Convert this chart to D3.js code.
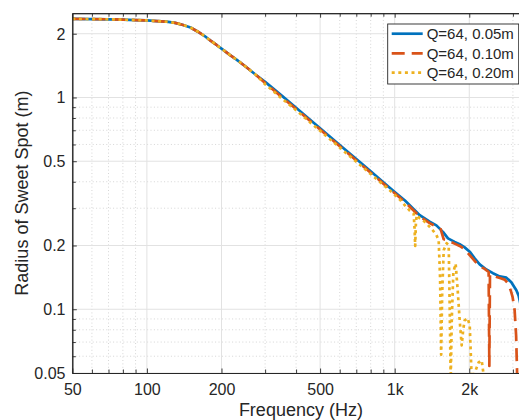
<!DOCTYPE html>
<html>
<head>
<meta charset="utf-8">
<script src="https://cdn.jsdelivr.net/npm/d3@7"></script>
<style>
  html, body { margin: 0; padding: 0; background: #fff; }
  svg { display: block; }
  text { font-family: "Liberation Sans", Arial, Helvetica, sans-serif; fill: #262626; }
</style>
</head>
<body>
<div id="chart"></div>
<script>
// ---------------- data ----------------
const seriesNames = ["Q=64, 0.05m", "Q=64, 0.10m", "Q=64, 0.20m"];

const lowFreq = [50, 60, 70, 80, 90, 100, 110, 120, 130, 140, 150, 160, 171, 180, 191, 200, 216, 230, 250, 275];
const lowRadius = [2.35, 2.345, 2.34, 2.33, 2.32, 2.31, 2.295, 2.28, 2.25, 2.20, 2.14, 2.05, 1.95, 1.86, 1.77, 1.70, 1.59, 1.51, 1.40, 1.28];

const freqA = [300, 350, 400, 500, 600, 700, 800, 900, 1000, 1100, 1150, 1262, 1384, 1473, 1566, 1641, 1746, 1829, 1916, 2008, 2103, 2203, 2344, 2492, 2651, 2822, 2956, 3097, 3164, 3250];
const radiusA = [1.185, 1.02, 0.895, 0.716, 0.597, 0.512, 0.448, 0.398, 0.358, 0.326, 0.310, 0.278, 0.259, 0.249, 0.232, 0.216, 0.208, 0.203, 0.196, 0.187, 0.174, 0.163, 0.154, 0.148, 0.143, 0.141, 0.134, 0.123, 0.116, 0.10];

const freqB = [300, 350, 400, 500, 600, 700, 800, 900, 1000, 1100, 1150, 1262, 1384, 1478, 1533, 1577, 1637, 1698, 1762, 1829, 1916, 2008, 2103, 2203, 2307, 2394, 2410, 2424, 2486, 2580, 2677, 2778, 2857, 2938, 2992, 3048, 3091, 3119, 3160];
const radiusB = [1.17, 1.005, 0.882, 0.706, 0.588, 0.504, 0.441, 0.392, 0.353, 0.321, 0.305, 0.274, 0.255, 0.245, 0.239, 0.214, 0.212, 0.207, 0.203, 0.199, 0.192, 0.180, 0.169, 0.160, 0.155, 0.150, 0.054, 0.146, 0.144, 0.142, 0.140, 0.138, 0.133, 0.123, 0.114, 0.099, 0.075, 0.0498, 0.037];

const freqC = [300, 350, 400, 500, 600, 700, 800, 900, 955, 1048, 1115, 1150, 1193, 1203, 1210, 1217, 1227, 1262, 1322, 1384, 1424, 1473, 1505, 1525, 1540, 1555, 1577, 1621, 1652, 1668, 1683, 1700, 1725, 1762, 1796, 1829, 1864, 1890, 1916, 1970, 2008, 2030, 2045, 2080, 2122, 2182, 2244, 2280, 2307, 2500, 3200];
const radiusC = [1.155, 0.99, 0.87, 0.696, 0.58, 0.497, 0.435, 0.387, 0.365, 0.330, 0.304, 0.292, 0.283, 0.24, 0.199, 0.25, 0.278, 0.269, 0.259, 0.245, 0.236, 0.224, 0.212, 0.14, 0.061, 0.12, 0.190, 0.205, 0.201, 0.10, 0.046, 0.09, 0.15, 0.164, 0.123, 0.089, 0.0675, 0.08, 0.0886, 0.0907, 0.084, 0.06, 0.046, 0.048, 0.0515, 0.0561, 0.0574, 0.05, 0.045, 0.035, 0.03];

const xTickValues = [50, 100, 200, 500, 1000, 2000];
const xTickLabels = ["50", "100", "200", "500", "1k", "2k"];
const xMinorValues = [60, 70, 80, 90, 300, 400, 600, 700, 800, 900, 3000];
const yTickValues = [0.05, 0.1, 0.2, 0.5, 1, 2];
const yTickLabels = ["0.05", "0.1", "0.2", "0.5", "1", "2"];
const yMinorValues = [0.06, 0.07, 0.08, 0.09, 0.3, 0.4, 0.6, 0.7, 0.8, 0.9];

const xLabel = "Frequency (Hz)";
const yLabel = "Radius of Sweet Spot (m)";

// ---------------- layout ----------------
const W = 519, H = 420;
const pLeft = 72.3, pRight = 529.5, pTop = 13.2, pBottom = 373;
const colors = ["#0072BD", "#D95319", "#EDB120"];
const dashes = [null, "13,7", "3,3.6"];

const svg = d3.select("#chart").append("svg").attr("width", W).attr("height", H);

const x = d3.scaleLog().domain([50, 3500]).range([pLeft, pRight]);
const y = d3.scaleLog().domain([0.05, 2.5]).range([pBottom, pTop]);

// grid
const grid = svg.append("g");
grid.selectAll(".xminor").data(xMinorValues).join("line")
  .attr("x1", d => x(d)).attr("x2", d => x(d)).attr("y1", pTop).attr("y2", pBottom)
  .attr("stroke", "#c4c4c4").attr("stroke-width", 0.7).attr("stroke-dasharray", "1,2.4");
grid.selectAll(".yminor").data(yMinorValues).join("line")
  .attr("y1", d => y(d)).attr("y2", d => y(d)).attr("x1", pLeft).attr("x2", pRight)
  .attr("stroke", "#c4c4c4").attr("stroke-width", 0.7).attr("stroke-dasharray", "1,2.4");
grid.selectAll(".xmajor").data(xTickValues).join("line")
  .attr("x1", d => x(d)).attr("x2", d => x(d)).attr("y1", pTop).attr("y2", pBottom)
  .attr("stroke", "#e2e2e2").attr("stroke-width", 1);
grid.selectAll(".ymajor").data(yTickValues).join("line")
  .attr("y1", d => y(d)).attr("y2", d => y(d)).attr("x1", pLeft).attr("x2", pRight)
  .attr("stroke", "#e2e2e2").attr("stroke-width", 1);

// curves
svg.append("defs").append("clipPath").attr("id", "plotclip")
  .append("rect").attr("x", pLeft).attr("y", pTop).attr("width", pRight - pLeft).attr("height", pBottom - pTop);

function buildSeries(fArr, rArr) {
  const pts = lowFreq.map((f, i) => ({ f, r: lowRadius[i] }));
  return pts.concat(fArr.map((f, i) => ({ f, r: rArr[i] })));
}
const series = [buildSeries(freqA, radiusA), buildSeries(freqB, radiusB), buildSeries(freqC, radiusC)];

const line = d3.line().x(d => x(d.f)).y(d => y(d.r));
const curves = svg.append("g").attr("clip-path", "url(#plotclip)");
series.forEach((s, i) => {
  curves.append("path").datum(s)
    .attr("d", line)
    .attr("fill", "none")
    .attr("stroke", colors[i])
    .attr("stroke-width", 2.7)
    .attr("stroke-linejoin", "round")
    .attr("stroke-dasharray", dashes[i]);
});

// axes
const axisColor = "#262626";
function styleAxis(g) {
  g.selectAll("path.domain").attr("stroke", axisColor).attr("stroke-width", 1);
  g.selectAll(".tick line").attr("stroke", axisColor).attr("stroke-width", 0.9);
  g.selectAll(".tick text").attr("fill", "#262626").style("font-size", "16px")
    .style("font-family", "'Liberation Sans', Arial, Helvetica, sans-serif");
}
const xAxis = svg.append("g").attr("transform", `translate(0,${pBottom})`)
  .call(d3.axisBottom(x).tickValues(xTickValues).tickFormat((d, i) => xTickLabels[i])
    .tickSizeInner(-4.5).tickSizeOuter(0).tickPadding(10.6));
styleAxis(xAxis);
const xMinorAxis = svg.append("g").attr("transform", `translate(0,${pBottom})`)
  .call(d3.axisBottom(x).tickValues(xMinorValues).tickFormat("").tickSizeInner(-3.5).tickSizeOuter(0));
styleAxis(xMinorAxis);
const xTopAxis = svg.append("g").attr("transform", `translate(0,${pTop})`)
  .call(d3.axisTop(x).tickValues(xTickValues).tickFormat("").tickSizeInner(-4.5).tickSizeOuter(0));
styleAxis(xTopAxis);
const xTopMinor = svg.append("g").attr("transform", `translate(0,${pTop})`)
  .call(d3.axisTop(x).tickValues(xMinorValues).tickFormat("").tickSizeInner(-3.5).tickSizeOuter(0));
styleAxis(xTopMinor);

const yAxis = svg.append("g").attr("transform", `translate(${pLeft},0)`)
  .call(d3.axisLeft(y).tickValues(yTickValues).tickFormat((d, i) => yTickLabels[i])
    .tickSizeInner(-4.5).tickSizeOuter(0).tickPadding(6.8));
styleAxis(yAxis);
yAxis.selectAll(".tick text").attr("dy", "0.34em");
const yMinorAxis = svg.append("g").attr("transform", `translate(${pLeft},0)`)
  .call(d3.axisLeft(y).tickValues(yMinorValues).tickFormat("").tickSizeInner(-3.5).tickSizeOuter(0));
styleAxis(yMinorAxis);

// axis labels
svg.append("text").attr("x", (pLeft + pRight) / 2).attr("y", 415.8)
  .attr("text-anchor", "middle").style("font-size", "18px").text(xLabel);
svg.append("text").attr("transform", `translate(28,${(pTop + pBottom) / 2}) rotate(-90)`)
  .attr("text-anchor", "middle").style("font-size", "18px").text(yLabel);

// legend
const lg = svg.append("g");
lg.append("rect").attr("x", 387.7).attr("y", 24).attr("width", 131).attr("height", 60)
  .attr("fill", "#fff").attr("stroke", "#262626").attr("stroke-width", 0.9);
const rowY = [33.7, 53.3, 72.7];
seriesNames.forEach((name, i) => {
  lg.append("line").attr("x1", 391.7).attr("x2", 422.7).attr("y1", rowY[i]).attr("y2", rowY[i])
    .attr("stroke", colors[i]).attr("stroke-width", 2.7).attr("stroke-dasharray", dashes[i]);
  lg.append("text").attr("x", 426.7).attr("y", rowY[i] + 5.5)
    .style("font-size", "15px").text(name);
});
</script>
</body>
</html>
